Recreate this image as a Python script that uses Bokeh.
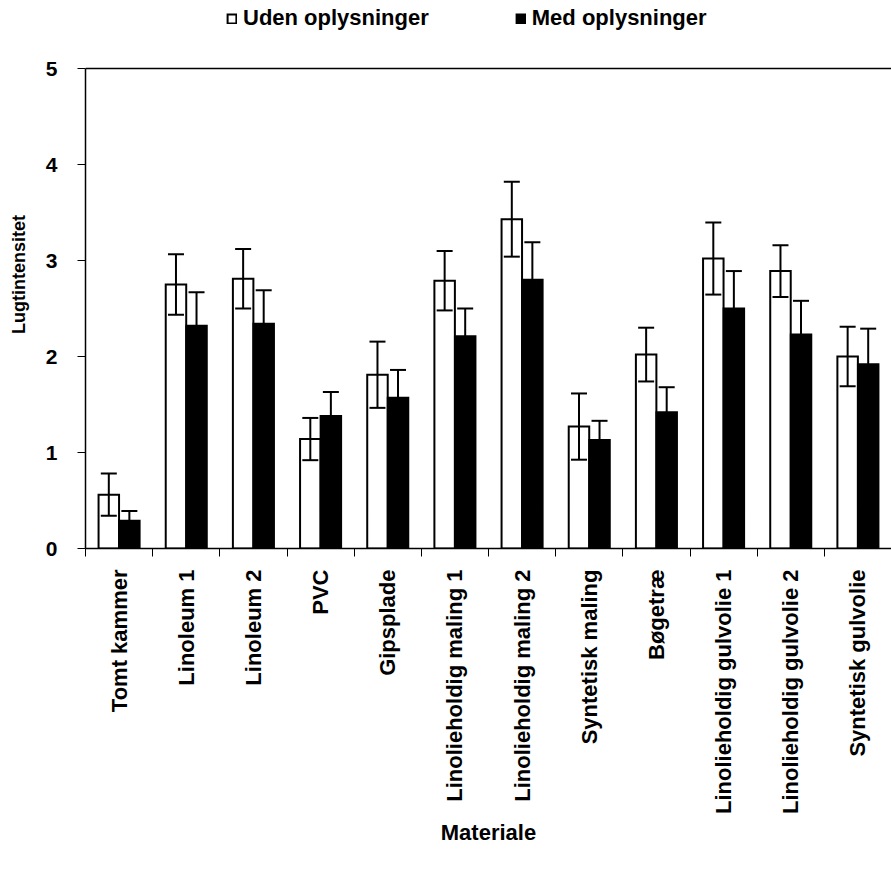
import numpy as np
from bokeh.plotting import figure
from bokeh.models import (ColumnDataSource, FixedTicker, Legend, LegendItem,
                          Whisker, TeeHead, Range1d, Span)
from bokeh.embed import file_html
from bokeh.resources import INLINE

categories = ["Tomt kammer", "Linoleum 1", "Linoleum 2", "PVC", "Gipsplade",
              "Linolieholdig maling 1", "Linolieholdig maling 2", "Syntetisk maling",
              "Bøgetræ", "Linolieholdig gulvolie 1", "Linolieholdig gulvolie 2",
              "Syntetisk gulvolie"]
uden = [0.56, 2.75, 2.81, 1.14, 1.81, 2.79, 3.43, 1.27, 2.02, 3.02, 2.89, 2.00]
uden_err = [0.22, 0.315, 0.31, 0.22, 0.345, 0.31, 0.39, 0.345, 0.28, 0.375, 0.27, 0.31]
med = [0.29, 2.32, 2.34, 1.38, 1.57, 2.21, 2.80, 1.13, 1.42, 2.50, 2.23, 1.92]
med_err = [0.10, 0.35, 0.35, 0.25, 0.29, 0.29, 0.39, 0.20, 0.26, 0.39, 0.35, 0.37]
y_ticks = [0, 1, 2, 3, 4, 5]
series_names = ["Uden oplysninger", "Med oplysninger"]

FONT = "Liberation Sans"
n = len(categories)
centers = np.arange(n) + 0.5
off = 0.153
bw = 0.305

# plot frame extends to the top of the canvas so the legend can sit above the axis top
FRAME_BOTTOM = 548
AXIS_TOP_PX = 68
ymax = y_ticks[-1]
y_end = ymax * FRAME_BOTTOM / (FRAME_BOTTOM - AXIS_TOP_PX)

src_u = ColumnDataSource(dict(x=centers - off, top=uden,
                              upper=np.array(uden) + np.array(uden_err),
                              lower=np.array(uden) - np.array(uden_err)))
src_m = ColumnDataSource(dict(x=centers + off, top=med,
                              upper=np.array(med) + np.array(med_err),
                              lower=np.array(med) - np.array(med_err)))

p = figure(width=891, height=877, output_backend="svg", toolbar_location=None,
           x_range=Range1d(0, n), y_range=Range1d(0, y_end),
           min_border_left=85, min_border_right=0, min_border_top=0,
           min_border_bottom=877 - FRAME_BOTTOM)
p.outline_line_color = None
p.xgrid.grid_line_color = None
p.ygrid.grid_line_color = None
p.background_fill_color = "white"
p.border_fill_color = "white"

r_u = p.vbar(x="x", top="top", width=bw, bottom=0, source=src_u,
             fill_color="white", line_color="black", line_width=2, line_join="miter")
r_m = p.vbar(x="x", top="top", width=bw, bottom=0, source=src_m,
             fill_color="black", line_color="black", line_width=2, line_join="miter")

for s in (src_u, src_m):
    w = Whisker(source=s, base="x", upper="upper", lower="lower",
                line_color="black", line_width=2, level="annotation",
                upper_head=TeeHead(size=16, line_width=2, line_color="black"),
                lower_head=TeeHead(size=16, line_width=2, line_color="black"))
    p.add_layout(w)

# top border of the value area
p.add_layout(Span(location=ymax, dimension="width", line_color="black", line_width=1.5))

# x axis
xa = p.xaxis[0]
xa.ticker = FixedTicker(ticks=list(centers), minor_ticks=list(range(n + 1)))
xa.major_label_overrides = {float(c): lab for c, lab in zip(centers, categories)}
xa.major_label_orientation = np.pi / 2
xa.major_tick_line_color = None
xa.major_tick_out = 0
xa.major_tick_in = 0
xa.minor_tick_line_color = "black"
xa.minor_tick_out = 8
xa.minor_tick_in = 0
xa.axis_line_color = "black"
xa.axis_line_width = 1.5
xa.major_label_standoff = 13
xa.major_label_text_font = FONT
xa.major_label_text_font_style = "bold"
xa.major_label_text_font_size = "22px"
xa.major_label_text_color = "black"
xa.axis_label = "Materiale"
xa.axis_label_text_font = FONT
xa.axis_label_text_font_style = "bold"
xa.axis_label_text_font_size = "22px"
xa.axis_label_text_color = "black"
xa.axis_label_standoff = 3

# y axis
ya = p.yaxis[0]
ya.ticker = FixedTicker(ticks=y_ticks)
ya.bounds = (y_ticks[0], ymax)
ya.major_tick_out = 8
ya.major_tick_in = 0
ya.minor_tick_line_color = None
ya.major_tick_line_color = "black"
ya.axis_line_color = "black"
ya.axis_line_width = 1.5
ya.major_label_standoff = 20
ya.major_label_text_font = FONT
ya.major_label_text_font_style = "bold"
ya.major_label_text_font_size = "21px"
ya.major_label_text_color = "black"
ya.axis_label = "Lugtintensitet"
ya.axis_label_text_font = FONT
ya.axis_label_text_font_style = "bold"
ya.axis_label_text_font_size = "18px"
ya.axis_label_text_color = "black"
ya.axis_label_standoff = 14

legend = Legend(items=[LegendItem(label=series_names[0], renderers=[r_u]),
                       LegendItem(label=series_names[1], renderers=[r_m])],
                orientation="horizontal", location=(141, 517),
                glyph_width=11, glyph_height=11, label_standoff=6, spacing=86,
                padding=0, margin=0, border_line_color=None,
                background_fill_alpha=0,
                label_text_font=FONT, label_text_font_style="bold",
                label_text_font_size="22px", label_text_color="black",
                label_height=22)
p.add_layout(legend, "center")

open("out.html", "w").write(file_html(p, INLINE))
